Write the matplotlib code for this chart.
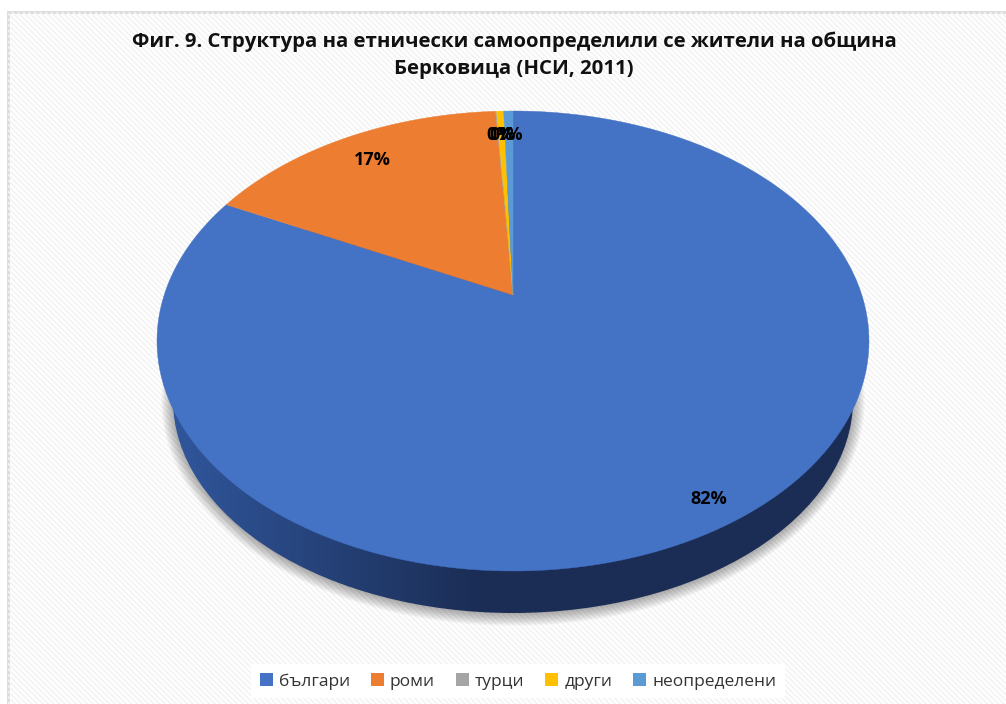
import numpy as np
import matplotlib
matplotlib.use('Agg')
import matplotlib.pyplot as plt
from matplotlib.patches import Rectangle, Ellipse, Polygon

plt.rcParams['font.family'] = ['Open Sans', 'DejaVu Sans']
plt.rcParams['hatch.linewidth'] = 1.2

title = 'Фиг. 9. Структура на етнически самоопределили се жители на община\nБерковица (НСИ, 2011)'
categories = ['българи', 'роми', 'турци', 'други', 'неопределени']
values = [82.35, 16.7, 0.05, 0.39, 0.51]
colors = ['#4472C4', '#ED7D31', '#A5A5A5', '#FFC000', '#5B9BD5']

# pixel position of the pie apex and perspective of the tilted disc
apex_x, apex_y = 513, 295
k = 0.2
a = 348.8
b = 220.8


def project(x, y):
    w = 1 + k * y
    return apex_x + a * x / w, apex_y - b * y / w


fig = plt.figure(figsize=(10.06, 7.04), dpi=100, facecolor='white')
ax = fig.add_axes([0, 0, 1, 1])

# pie first, the wedges then get moved onto the tilted disc
wedges, texts, autotexts = ax.pie(values, colors=colors, startangle=90, counterclock=False,
                                  autopct='%1.0f%%', pctdistance=0.87, radius=1)
ax.set_aspect('auto')
ax.set_xlim(0, 1006)
ax.set_ylim(704, 0)
ax.axis('off')

# background
ax.add_patch(Rectangle((8.5, 11.5), 1100, 800, facecolor='white', edgecolor='#d9d9d9', linewidth=2,
                       zorder=0))
ax.add_patch(Rectangle((8.5, 11.5), 1100, 800, facecolor='none', edgecolor='#f3f3f3', linewidth=0,
                       hatch='\\\\\\\\\\\\', zorder=0.1))

# soft shadow under the disc
for i in range(10):
    ax.add_patch(Ellipse((513, 401), 2 * (340 + i * 1.3), 2 * (213 + i * 1.3), facecolor='#000000',
                         edgecolor='none', alpha=0.035, zorder=1))

# side wall with a horizontal gradient
wall = Ellipse((513, 400), 2 * 340, 2 * 213, facecolor='none', edgecolor='none', zorder=2)
ax.add_patch(wall)
grad = np.interp(np.linspace(0, 1, 256), [0, 0.45, 1], [0, 1, 1])
left = np.array([0x30, 0x56, 0x9B]) / 255
right = np.array([0x1B, 0x2D, 0x55]) / 255
img = (left[None, :] * (1 - grad[:, None]) + right[None, :] * grad[:, None])[None, :, :]
im = ax.imshow(img, extent=[173, 853, 704, 0], aspect='auto', zorder=2)
im.set_clip_path(wall)
ax.set_xlim(0, 1006)
ax.set_ylim(704, 0)

for wedge, color in zip(wedges, colors):
    t = np.radians(np.linspace(wedge.theta1, wedge.theta2, 300))
    xs = np.r_[0, np.cos(t)]
    ys = np.r_[0, np.sin(t)]
    px, py = project(xs, ys)
    wedge.set_visible(False)
    ax.add_patch(Polygon(np.c_[px, py], closed=True, facecolor=color, edgecolor=color, linewidth=0.3,
                         zorder=3))

for label, wedge, value in zip(autotexts, wedges, values):
    mid = np.radians((wedge.theta1 + wedge.theta2) / 2)
    r = 0.91 if value > 50 else 0.85
    px, py = project(r * np.cos(mid), r * np.sin(mid))
    if value > 50:
        label.set_position((px - 2, py + 2))
    elif value > 1:
        label.set_position((px + 3, py + 2))
    else:
        label.set_position((px + 1, py))
    label.set_fontsize(13)
    label.set_fontweight('bold')
    label.set_color('black')
    label.set_zorder(5)

for t in texts:
    t.set_visible(False)

ax.text(514, 55, title, ha='center', va='center', fontsize=14.7, fontweight='bold', color='#111111',
        linespacing=1.45, zorder=5)

leg = ax.legend(wedges, categories, loc='lower center', bbox_to_anchor=(518 / 1006, 0.0), ncol=5,
                frameon=True, framealpha=1, facecolor='white', edgecolor='none', fontsize=12.5,
                handlelength=0.75, handleheight=0.75, handletextpad=0.35, columnspacing=1.2,
                labelcolor='#333333', borderaxespad=0.33, borderpad=0.5, fancybox=False)
leg.set_zorder(6)
for h in leg.legend_handles:
    h.set_visible(True)

fig.savefig('out.png', dpi=100)
